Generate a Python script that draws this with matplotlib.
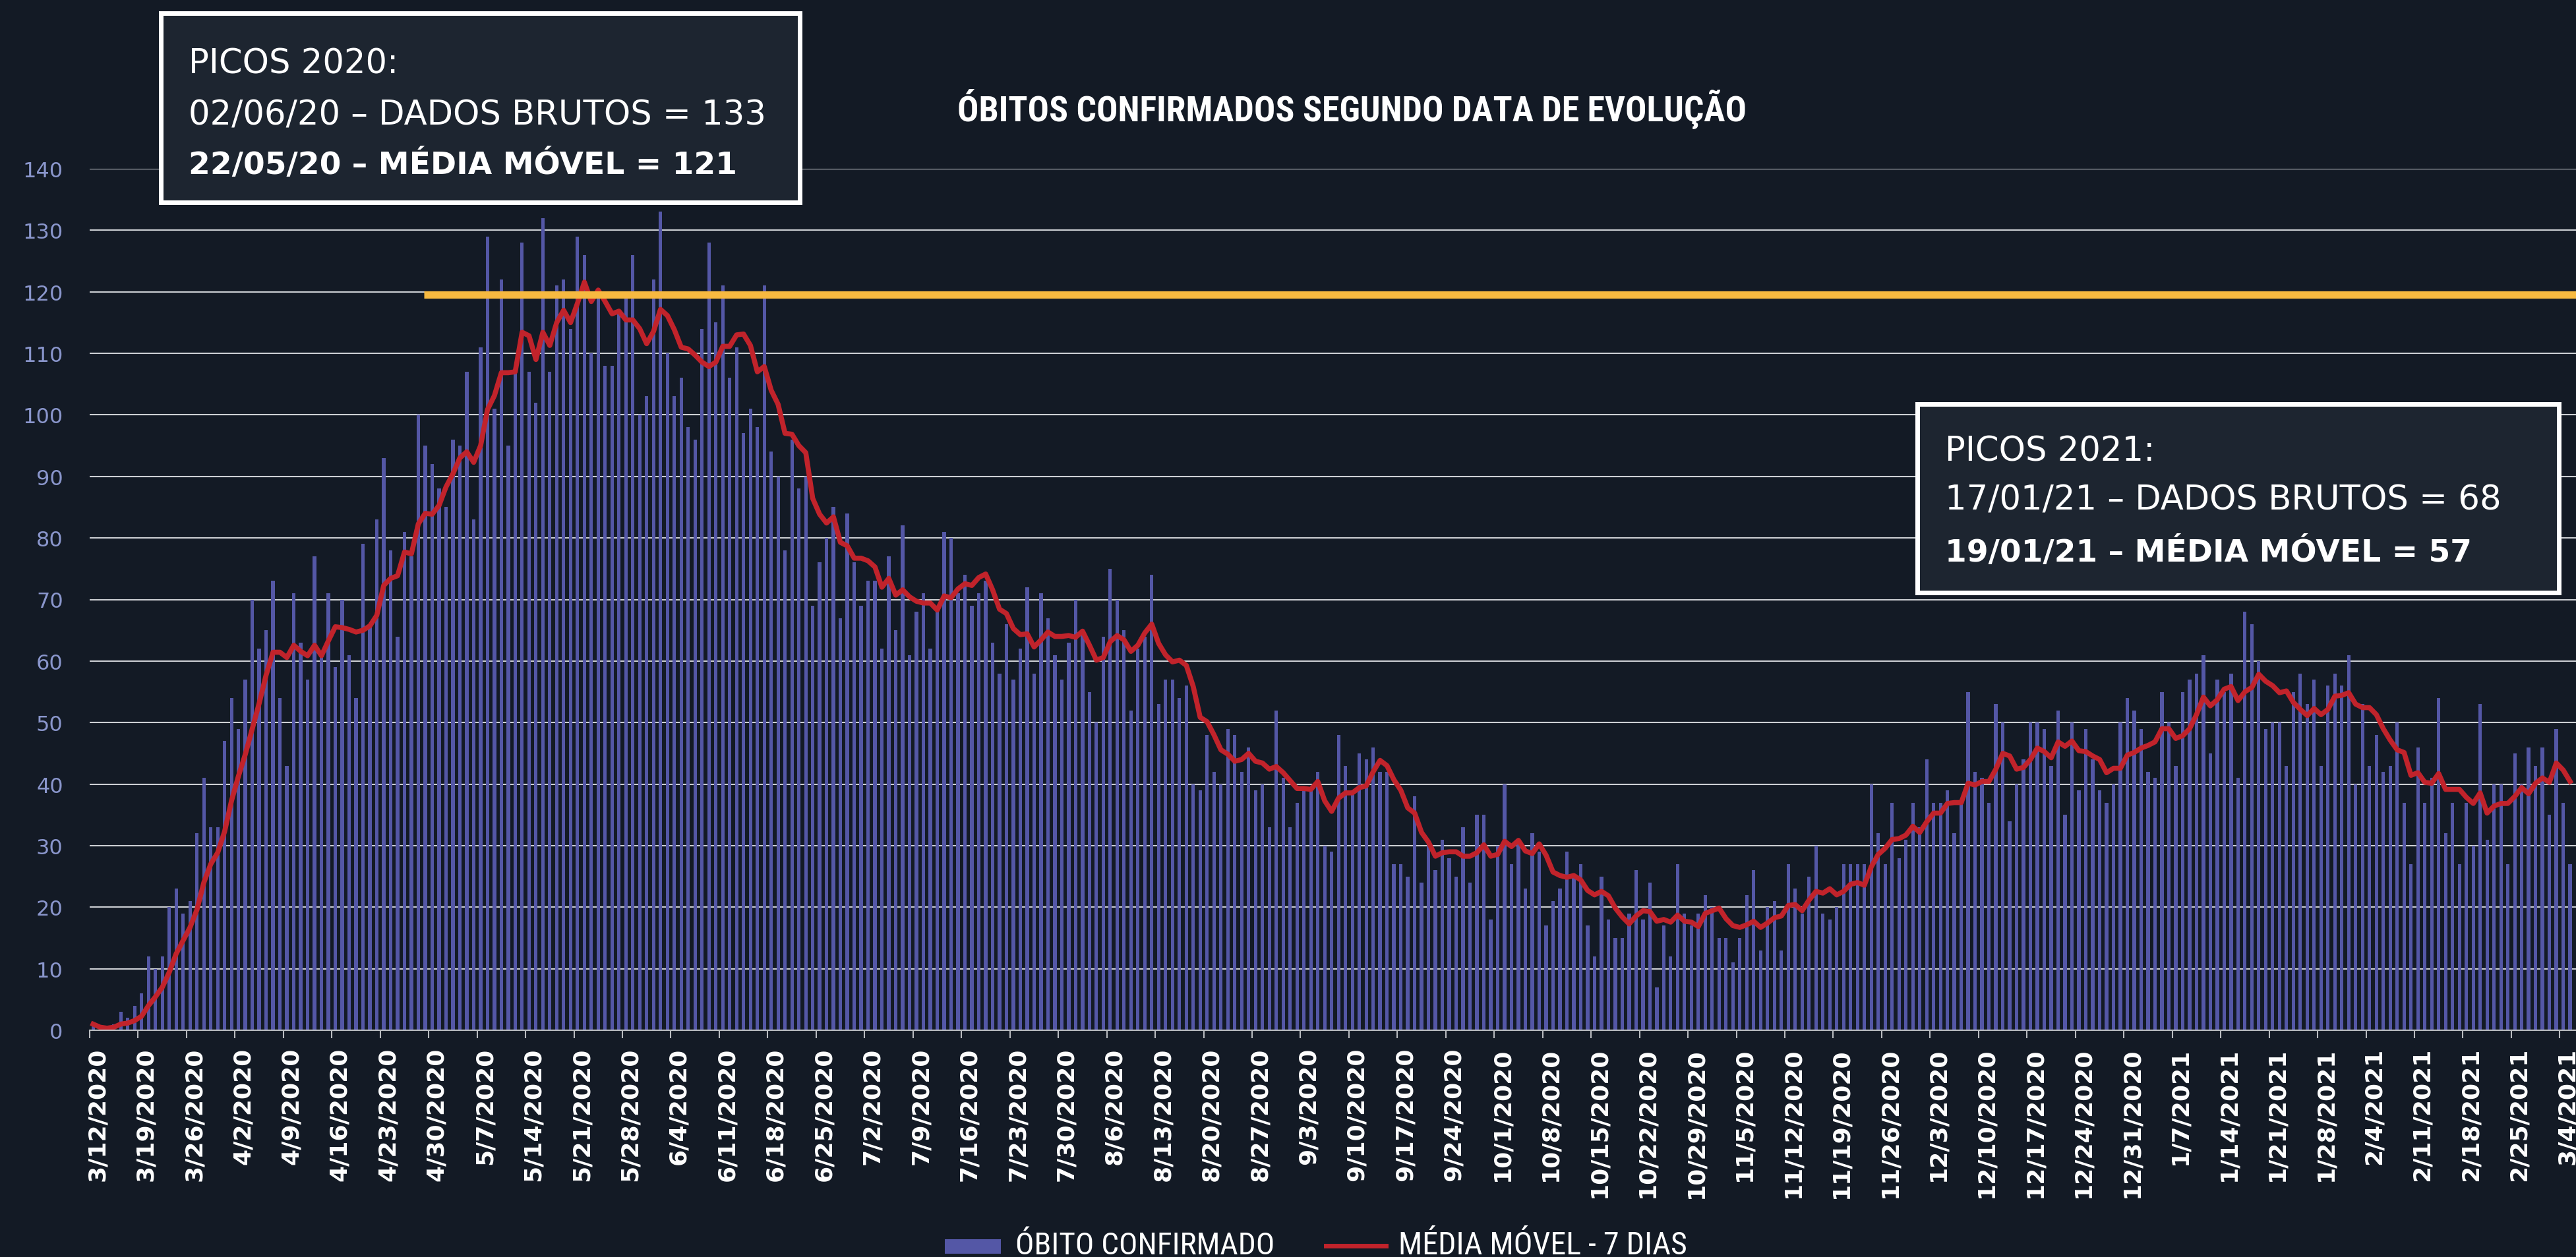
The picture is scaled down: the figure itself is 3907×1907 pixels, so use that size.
import numpy as np
import pandas as pd
import matplotlib
matplotlib.use('Agg')
import matplotlib.pyplot as plt
import matplotlib.font_manager as fm
from matplotlib.patches import Rectangle
from matplotlib.lines import Line2D

# óbitos confirmados por dia (data de evolução), a partir de 12/03/2020
obitos = [
    1, 0, 0, 1, 3, 2, 4, 6, 12, 10, 12, 20, 23, 19, 21, 32, 41, 33, 33, 47,
    54, 49, 57, 70, 62, 65, 73, 54, 43, 71, 63, 57, 77, 61, 71, 59, 70, 61, 54, 79,
    66, 83, 93, 78, 64, 81, 77,
    100, 95, 92, 88, 85, 96, 95, 107, 83, 111, 129, 101, 122, 95, 108, 128, 107, 102,
    132, 107, 121, 122, 114, 129, 126, 110, 120, 108, 108, 117, 119, 126, 100, 103,
    122, 133, 110, 103, 106, 98, 96, 114, 128, 115, 121, 106,
    111, 97, 101, 98, 121, 94, 90, 78, 96, 88, 90, 69, 76, 80, 85, 67, 84, 76, 69, 73,
    73, 62, 77, 65, 82, 61, 68, 71, 62, 69, 81, 80, 71, 74, 69, 71, 73, 63, 58, 66,
    57, 62, 72, 58, 71,
    67, 61, 57, 63, 70, 65, 55, 50, 64, 75, 70, 65, 52, 62, 64, 74, 53, 57, 57, 54,
    56, 40, 39, 48, 42, 40, 49, 48, 42, 46, 39, 40, 33, 52, 41, 33, 37, 39, 39, 42,
    30, 29, 48, 43, 39, 45,
    44, 46, 42, 42, 27, 27, 25, 38, 24, 31, 26, 31, 28, 25, 33, 24, 35, 35, 18, 30,
    40, 27, 31, 23, 32, 29, 17, 21, 23, 29, 25, 27, 17, 12, 25, 18, 15, 15, 19, 26,
    18, 24, 7, 17, 12, 27,
    19, 17, 19, 22, 20, 15, 15, 11, 15, 22, 26, 13, 20, 21, 13, 27, 23, 19, 25, 30,
    19, 18, 20, 27, 27, 27, 27, 40, 32, 27, 37, 28, 31, 37, 33, 44, 37, 37, 39, 32,
    37, 55, 42, 41, 37, 53,
    50, 34, 40, 44, 50, 50, 49, 43, 52, 35, 50, 39, 49, 44, 39, 37, 40, 50, 54, 52,
    49, 42, 41, 55, 50, 43, 55, 57, 58, 61, 45, 57, 55, 58, 41, 68, 66, 60, 49, 50,
    50, 43, 55, 58, 53,
    57, 43, 56, 58, 56, 61, 40, 53, 43, 48, 42, 43, 50, 37, 27, 46, 37, 41, 54, 32,
    37, 27, 37, 30, 53, 31, 40, 40, 27, 45, 40, 46, 43, 46, 35, 49, 37, 27,
]
datas = pd.date_range('2020-03-12', periods=len(obitos), freq='D')
rotulos_x = [f'{d.month}/{d.day}/{d.year}' for d in datas[::7]]
valores_y = list(range(0, 141, 10))

titulo = 'ÓBITOS CONFIRMADOS SEGUNDO DATA DE EVOLUÇÃO'
caixa_2020 = ['PICOS 2020:', '02/06/20 – DADOS BRUTOS = 133', '22/05/20 – MÉDIA MÓVEL = 121']
caixa_2021 = ['PICOS 2021:', '17/01/21 – DADOS BRUTOS = 68', '19/01/21 – MÉDIA MÓVEL = 57']
legenda = ['ÓBITO CONFIRMADO', 'MÉDIA MÓVEL - 7 DIAS']

nivel_linha = 119.5   # linha laranja do pico da média móvel (como aparece no gráfico)
inicio_linha = 47.8   # dia em que a linha laranja começa

# media movel de 7 dias
media = pd.Series(obitos).rolling(7, min_periods=1).mean()

FUNDO = '#131a25'
CAIXA = '#1d2530'
AZUL = '#5457a6'
VERMELHO = '#c1232b'
LARANJA = '#f7b940'
GRADE = '#cdd0d4'

nomes = {f.name for f in fm.fontManager.ttflist}
condensada = next((n for n in ['Roboto Condensed', 'Open Sans Condensed',
                               'Liberation Sans Narrow'] if n in nomes), 'DejaVu Sans')

W, H = 3907, 1908
fig = plt.figure(figsize=(W / 100, H / 100), dpi=100, facecolor=FUNDO)


def fx(px):
    return px / W


def fy(py):
    return 1 - py / H


ax = fig.add_axes([fx(136), fy(1564), (W - 136) / W, (1564 - 257) / H], facecolor=FUNDO)

x = np.arange(len(obitos))
ax.bar(x, obitos, width=0.5, color=AZUL, zorder=2)
ax.plot(x, media, color=VERMELHO, lw=5.5, zorder=3, solid_joinstyle='round')
ax.hlines(nivel_linha, inicio_linha, len(obitos), color=LARANJA, lw=8, zorder=4)

ax.set_xlim(-0.5, len(obitos) - 0.15)
ax.set_ylim(0, 140)
ax.set_yticks(valores_y)
ax.grid(axis='y', color=GRADE, lw=1.5)
ax.set_axisbelow(True)

semanas = x[::7]
ax.set_xticks(semanas - 0.5)
ax.set_xticklabels([])
ax.set_xticks(semanas + 0.65, minor=True)
ax.set_xticklabels(rotulos_x, minor=True, rotation=90, fontweight='bold')
ax.tick_params(axis='x', which='major', length=8.6, width=1.5, color='#b9bcc0')
ax.tick_params(axis='x', which='minor', length=0, pad=18.7, labelcolor='white', labelsize=26)
ax.tick_params(axis='y', length=0, pad=29, labelcolor='#8a96cc', labelsize=23)

for lado in ['top', 'right', 'left']:
    ax.spines[lado].set_visible(False)
ax.spines['bottom'].set_color('#b9bcc0')
ax.spines['bottom'].set_linewidth(1.5)
ax.spines['bottom'].set_zorder(5)

# titulo
t_titulo = fig.text(fx(2051), fy(184), titulo, ha='center', va='baseline', color='white',
                    fontsize=40, fontweight='bold', family=condensada, fontstretch='condensed')

# caixas com os picos
caixas = []
for (x0, y0, x1, y1), linhas, bases in [
        ((243.5, 20.5, 1212.5, 307.5), caixa_2020, [112, 189, 264]),
        ((2907.5, 613.5, 3880.5, 899.5), caixa_2021, [700, 774, 852])]:
    fig.add_artist(Rectangle((fx(x0), fy(y1)), (x1 - x0) / W, (y1 - y0) / H,
                             transform=fig.transFigure, facecolor=CAIXA,
                             edgecolor='white', lw=5, zorder=5))
    textos = []
    for i, (linha, base) in enumerate(zip(linhas, bases)):
        textos.append(fig.text(fx(x0 + 42), fy(base), linha, color='white', fontsize=30,
                               va='baseline', ha='left', zorder=6,
                               fontweight='bold' if i == 2 else 'normal'))
    caixas.append(textos)

# legenda
fig.add_artist(Rectangle((fx(1433), fy(1903)), 85 / W, 22 / H, transform=fig.transFigure,
                         facecolor=AZUL, edgecolor='none'))
fig.add_artist(Line2D([fx(2011), fx(2102)], [fy(1891), fy(1891)], transform=fig.transFigure,
                      color=VERMELHO, lw=5))
t_leg1 = fig.text(fx(1540), fy(1903), legenda[0], color='white', fontsize=24,
                  va='baseline', family=condensada, fontstretch='condensed')
t_leg2 = fig.text(fx(2121), fy(1903), legenda[1], color='white', fontsize=24,
                  va='baseline', family=condensada, fontstretch='condensed')

# ajusta tamanhos das fontes pela largura medida no original
fig.canvas.draw()
r = fig.canvas.get_renderer()


def ajustar(t, largura):
    w = t.get_window_extent(r).width
    fator = largura / w
    t.set_fontsize(t.get_fontsize() * fator)
    return t.get_fontsize()


ajustar(t_titulo, 1194)
ajustar(t_leg1, 394)
ajustar(t_leg2, 438)
tam_normal = ajustar(caixas[0][1], 877)
tam_negrito = ajustar(caixas[0][2], 832)
for textos in caixas:
    textos[0].set_fontsize(tam_normal)
    textos[1].set_fontsize(tam_normal)
    textos[2].set_fontsize(tam_negrito)

fig.savefig('out.png', dpi=100, facecolor=FUNDO)
